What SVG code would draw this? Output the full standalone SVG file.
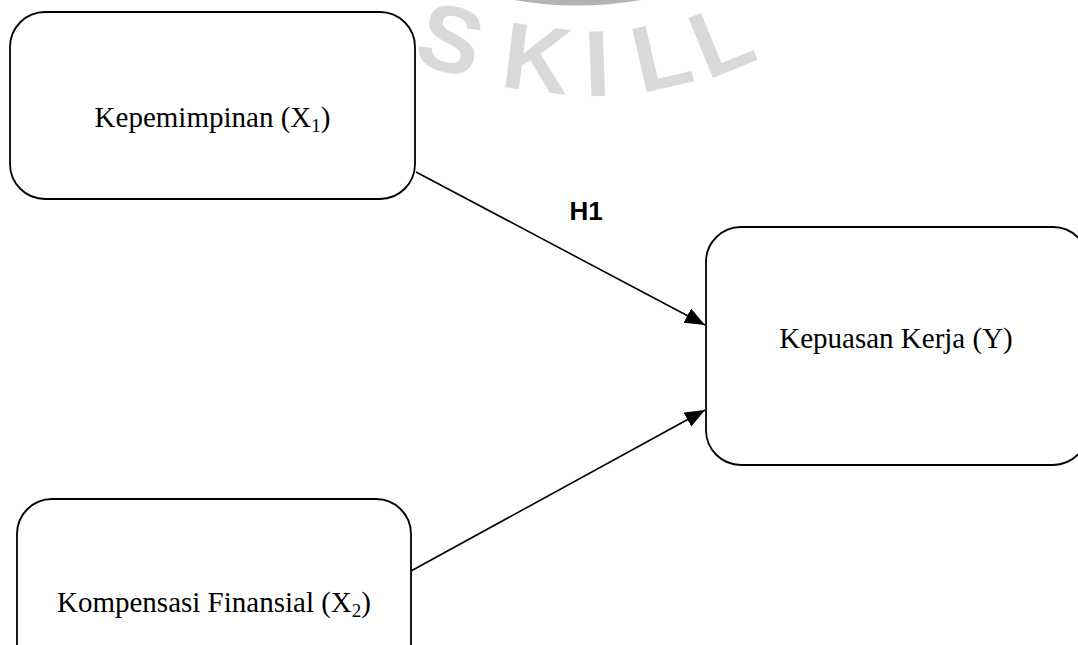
<svg xmlns="http://www.w3.org/2000/svg" width="1078" height="645" viewBox="0 0 1078 645">
  <style>
    .box { fill: #ffffff; stroke: #000000; stroke-width: 1.8; }
    .lbl { font-family: "Liberation Serif", "Times New Roman", serif; font-size: 29px; fill: #000000; text-anchor: middle; }
    .sub { font-size: 19px; }
    .wm { font-family: "Liberation Sans", Arial, sans-serif; font-size: 94px; font-weight: bold; fill: #d9d9d9; text-anchor: middle; }
    .conn { stroke: #000000; stroke-width: 1.6; fill: none; marker-end: url(#arrow); }
    .hl { font-family: "Liberation Sans", Arial, sans-serif; font-size: 26px; font-weight: bold; fill: #000000; text-anchor: middle; }
  </style>
  <defs>
    <marker id="arrow" markerUnits="userSpaceOnUse" markerWidth="21" markerHeight="17" refX="20" refY="8" orient="auto">
      <path d="M0,0 L20,8 L0,16 z" fill="#000000"/>
    </marker>
  </defs>
  <rect x="0" y="0" width="1078" height="645" fill="#ffffff"/>

  <g id="watermark">
    <path d="M514 0 Q 577 11 641 0 Z" fill="#b3b3b3"/>
    <text class="wm" transform="translate(451,38) rotate(16)" y="34">S</text>
    <text class="wm" transform="translate(537,57) rotate(7)" y="34">K</text>
    <text class="wm" transform="translate(597,62) rotate(-2)" y="34">I</text>
    <text class="wm" transform="translate(661,54) rotate(-13)" y="34">L</text>
    <text class="wm" transform="translate(721,38) rotate(-22)" y="34">L</text>
  </g>

  <g id="connectors">
    <line class="conn" x1="416" y1="172" x2="705" y2="325"/>
    <line class="conn" x1="411" y1="571" x2="705" y2="410"/>
    <text class="hl" x="586" y="220">H1</text>
  </g>

  <g id="node-x1">
    <rect class="box" x="10" y="12" width="405" height="187" rx="35" ry="35"/>
    <text class="lbl" x="212.5" y="127">Kepemimpinan (X<tspan class="sub" dy="5">1</tspan><tspan dy="-5">)</tspan></text>
  </g>

  <g id="node-x2">
    <rect class="box" x="17" y="499" width="394" height="200" rx="35" ry="35"/>
    <text class="lbl" x="214" y="612">Kompensasi Finansial (X<tspan class="sub" dy="5">2</tspan><tspan dy="-5">)</tspan></text>
  </g>

  <g id="node-y">
    <rect class="box" x="706" y="227" width="382" height="238" rx="35" ry="35"/>
    <text class="lbl" x="896" y="348">Kepuasan Kerja (Y)</text>
  </g>
</svg>
